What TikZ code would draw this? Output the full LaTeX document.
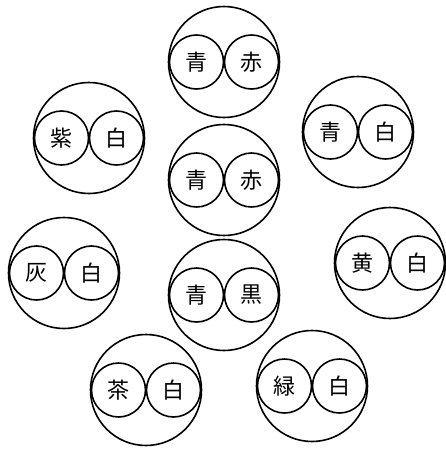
\documentclass[tikz,border=0pt]{standalone}
\usepackage{fontspec}
\newfontfamily\jpfont{Noto Sans CJK JP}
\usepackage{tikz}
\usetikzlibrary{positioning}

\tikzset{
  cable/.style={draw, circle, line width=1.6pt, minimum size=111pt, inner sep=0pt},
  core/.style={draw, circle, line width=1.6pt, minimum size=54pt, inner sep=0pt,
               font=\jpfont\fontsize{22pt}{22pt}\selectfont},
}

\begin{document}
\begin{tikzpicture}[x=1pt, y=-1pt]
    \useasboundingbox (0,0) rectangle (446,450);
    % one cable: outer sheath, two cores
    \foreach \n/\cx/\cy/\ca/\cb in {top/224/62/青/赤, mid/224/180/青/赤, low/224/295/青/黒,
        ul/89/138/紫/白, ur/358/132/青/白, ml/64/273/灰/白, mr/390/263/黄/白,
        ll/146/390/茶/白, lr/312/386/緑/白} {
      \node[cable] (\n) at (\cx,\cy) {};
      \node[core, xshift=-27.5pt] (\n-a) at (\n.center) {\ca};
      \node[core, xshift=27.5pt] (\n-b) at (\n.center) {\cb};
    }
  \end{tikzpicture}
\end{document}
